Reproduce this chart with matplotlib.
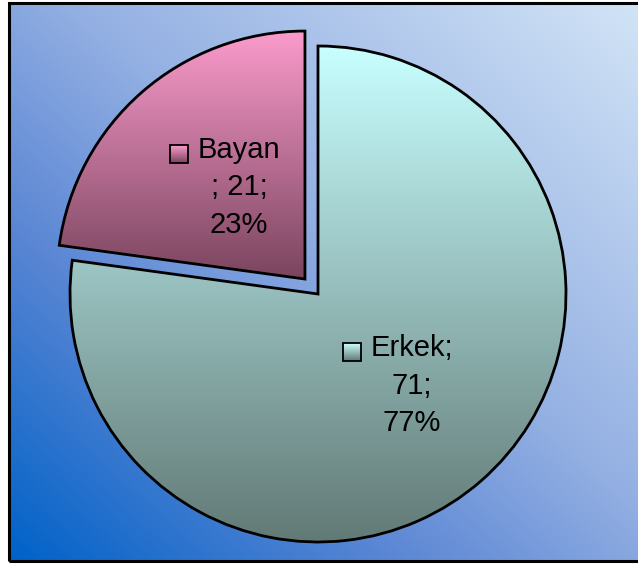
import numpy as np
import matplotlib
matplotlib.use('Agg')
import matplotlib.pyplot as plt
from matplotlib.colors import LinearSegmentedColormap
from matplotlib.patches import Rectangle

plt.rcParams['font.family'] = ['Liberation Sans', 'DejaVu Sans']

# data
labels = ['Erkek', 'Bayan']
counts = [71, 21]
percents = [77, 23]
label_text = ['Erkek;\n71;\n77%', 'Bayan\n; 21;\n23%']
explode_frac = [0, 0.08]

W, H = 638, 567
fig = plt.figure(figsize=(W / 100, H / 100), dpi=100)
ax = fig.add_axes([0, 0, 1, 1])

# background panel, diagonal gradient (dark bottom-left -> light top-right)
bg_cmap = LinearSegmentedColormap.from_list(
    'bg', [(0, '#0062c8'), (0.3, '#5a86d4'), (0.55, '#94b0e3'), (1, '#d2e4f6')])
x0, x1, y0, y1 = 9, 645, 6, 564
gx, gy = np.meshgrid(np.linspace(0, 1, 200), np.linspace(0, 1, 200))
grad = (gx + gy) / 2
ax.imshow(grad, cmap=bg_cmap, extent=(x0, x1, y0, y1), origin='lower',
          aspect='auto', zorder=0, interpolation='bicubic')
ax.add_patch(Rectangle((x0, y0), x1 - x0, y1 - y0, fill=False, ec='black',
                       lw=2.2, zorder=5, clip_on=False))

center = (318, 273)
radius = 248
# pie explode is in data units, so scale by radius
explode = [e * radius for e in explode_frac]
wedges, _ = ax.pie(counts, explode=explode, startangle=90, counterclock=False,
                   center=center, radius=radius, frame=True,
                   wedgeprops=dict(facecolor='none', edgecolor='black', lw=2))
ax.set_xlim(0, W)
ax.set_ylim(0, H)
ax.set_aspect('equal')
ax.axis('off')

fills = [('#c8ffff', '#627a76'), ('#fb9bcc', '#7a455e')]
for w, (top, bot) in zip(wedges, fills):
    w.set_zorder(3)
    cm = LinearSegmentedColormap.from_list('g', [bot, top])
    bb = w.get_path().get_extents(w.get_patch_transform())
    col = np.linspace(0, 1, 256).reshape(-1, 1)
    im = ax.imshow(col, cmap=cm, extent=(bb.x0, bb.x1, bb.y0, bb.y1),
                   origin='lower', aspect='auto', zorder=2,
                   interpolation='bicubic')
    im.set_clip_path(w)

fig.canvas.draw()
r = fig.canvas.get_renderer()

# labels: block (key + text) centred at half radius on the mid angle
fs = 21
sq = 18
for w, txt, (top, bot) in zip(wedges, label_text, fills):
    mid = np.deg2rad((w.theta1 + w.theta2) / 2)
    cx, cy = w.center
    ax_ = cx + 0.49 * radius * np.cos(mid)
    ay_ = cy + 0.49 * radius * np.sin(mid)
    t = ax.text(ax_, ay_, txt, ha='center', va='center',
                multialignment='center', fontsize=fs, linespacing=1.45,
                zorder=6, color='black')
    tb = t.get_window_extent(r)
    first = ax.text(0, 0, txt.split('\n')[0], fontsize=fs)
    w1 = first.get_window_extent(r).width
    first.remove()
    key_left = ax_ - w1 / 2 - 28
    left = min(tb.x0, key_left)
    shift = ax_ - (left + tb.x1) / 2
    tx = ax_ + shift
    t.set_position((tx, ay_))
    tb = t.get_window_extent(r)
    kx = tx - w1 / 2 - 28
    # baseline of the first line is roughly top minus ascent
    ky = tb.y1 - fs * 1.39 * 0.93
    cm = LinearSegmentedColormap.from_list('k', [bot, top])
    ax.imshow(np.linspace(0, 1, 32).reshape(-1, 1), cmap=cm,
              extent=(kx, kx + sq, ky, ky + sq), origin='lower',
              aspect='auto', zorder=6)
    ax.add_patch(Rectangle((kx, ky), sq, sq, fill=False, ec='black', lw=1.3,
                           zorder=7))

ax.set_xlim(0, W)
ax.set_ylim(0, H)
fig.savefig('out.png', dpi=100)
